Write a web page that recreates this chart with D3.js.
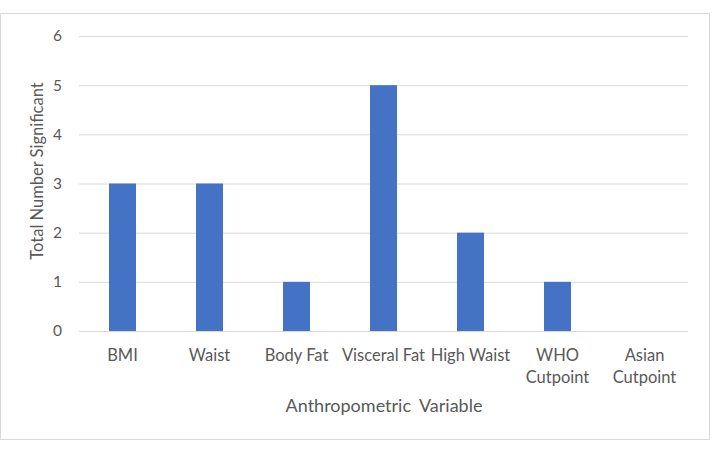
<!DOCTYPE html>
<html>
<head>
<meta charset="utf-8">
<script src="https://cdn.jsdelivr.net/npm/d3@7"></script>
<style>
  body { margin: 0; background: #fff; }
  text { font-family: Lato, "Open Sans", sans-serif; fill: #595959; }
</style>
</head>
<body>
<script>
// chart values
const categories = ['BMI', 'Waist', 'Body Fat', 'Visceral Fat', 'High Waist', 'WHO|Cutpoint', 'Asian|Cutpoint']
const counts = [3, 3, 1, 5, 2, 1, 0]
const yTicks = [0, 1, 2, 3, 4, 5, 6]

const W = 714, H = 449
const margin = {top: 36, right: 26, bottom: 118, left: 79}
const width = W - margin.left - margin.right,
  height = H - margin.top - margin.bottom

const svg = d3.select('body')
  .append('svg')
  .attr('width', W)
  .attr('height', H)

// chart border
svg.append('rect')
  .attr('x', 0.5)
  .attr('y', 13.5)
  .attr('width', 709)
  .attr('height', 426)
  .attr('fill', '#fff')
  .attr('stroke', '#d9d9d9')

const g = svg.append('g')
  .attr('transform', `translate(${margin.left}, ${margin.top})`)

const x = d3.scaleBand()
  .domain(categories)
  .range([0, width])
  .paddingInner(0.69)
  .paddingOuter(0.345)

const y = d3.scaleLinear()
  .domain([0, 6])
  .range([height, 0])

// gridlines
g.append('g')
  .call(d3.axisLeft(y).tickValues(yTicks).tickSize(-width).tickFormat(''))
  .call(a => a.select('.domain').remove())
  .selectAll('line')
  .attr('stroke', '#d9d9d9')
  .attr('stroke-width', 1)

// y tick labels
g.append('g')
  .call(d3.axisLeft(y).tickValues(yTicks).tickSize(0).tickPadding(17).tickFormat(d3.format('d')))
  .call(a => a.select('.domain').remove())
  .selectAll('text')
  .style('font-size', '15.5px')
  .attr('fill', '#595959')

// bars
g.append('g').selectAll('rect')
  .data(counts)
  .enter()
  .append('rect')
  .attr('x', (d, i) => x(categories[i]))
  .attr('y', d => y(d))
  .attr('width', x.bandwidth())
  .attr('height', d => height - y(d))
  .attr('fill', '#4472c4')

// x labels (two lines where needed)
const xl = g.append('g')
  .attr('transform', `translate(0, ${height})`)
  .selectAll('text')
  .data(categories)
  .enter()
  .append('text')
  .attr('text-anchor', 'middle')
  .style('font-size', '16.5px')
  .attr('x', d => x(d) + x.bandwidth() / 2)
xl.each(function (d) {
  const lines = d.split('|')
  lines.forEach((s, k) => {
    d3.select(this).append('tspan')
      .attr('x', x(d) + x.bandwidth() / 2)
      .attr('y', 30 + k * 22)
      .text(s)
  })
})

// axis titles
svg.append('text')
  .attr('x', 384)
  .attr('y', 412)
  .attr('text-anchor', 'middle')
  .style('font-size', '18px')
  .style('word-spacing', '4px')
  .text('Anthropometric Variable')

svg.append('text')
  .attr('transform', 'translate(43, 171) rotate(-90)')
  .attr('text-anchor', 'middle')
  .style('font-size', '16.5px')
  .text('Total Number Significant')
</script>
</body>
</html>
